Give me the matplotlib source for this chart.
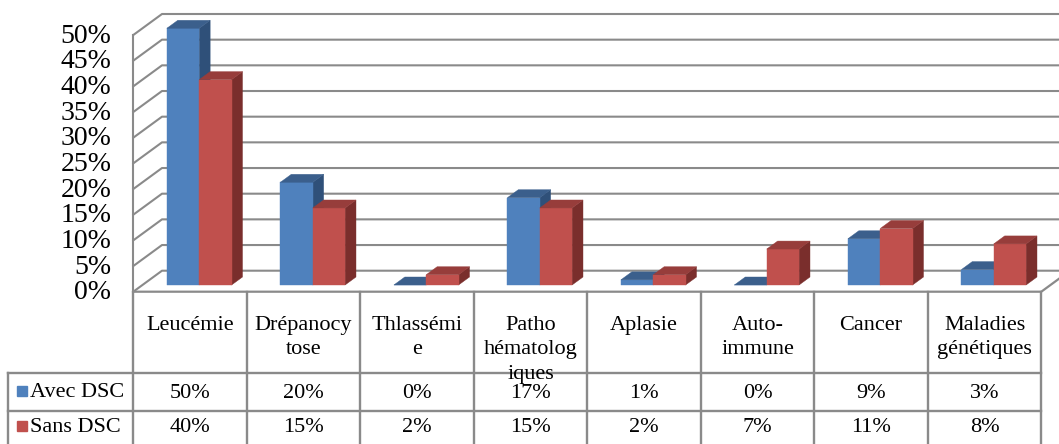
import numpy as np
import matplotlib.pyplot as plt
from matplotlib.patches import Polygon

categories = ['Leucémie', 'Drépanocy\ntose', 'Thlassémi\ne', 'Patho\nhématolog\niques',
              'Aplasie', 'Auto-\nimmune', 'Cancer', 'Maladies\ngénétiques']
avec_dsc = [50, 20, 0, 17, 1, 0, 9, 3]
sans_dsc = [40, 15, 2, 15, 2, 7, 11, 8]
series_names = ['Avec DSC', 'Sans DSC']
y_ticks = np.arange(0, 55, 5)

plt.rcParams['font.family'] = ['Liberation Serif', 'DejaVu Serif']

W, H = 1059, 444
x0_px, cat_px = 133.3, 113.5   # left wall and width of one category, in pixels
y0_px, pct_px = 291.7, 5.134   # floor front line and pixels per percent
dx, dy = 28.7 / cat_px, 21 / pct_px   # depth of the floor in data units
d0, d1 = 0.32, 0.70             # depth span of the bars
bw = 0.285                      # bar width (category units)
n = len(categories)

face = {'blue': ['#4f81bd', '#3b5f8c', '#2f5079'],
        'red': ['#c0504d', '#973d3b', '#7a2e2c']}
grid_c = '#8a8a8a'

fig = plt.figure(figsize=(W / 100, H / 100), dpi=100)
ax = fig.add_axes([0, 0, 1, 1])
ax.set_xlim(-x0_px / cat_px, (W - x0_px) / cat_px)
ax.set_ylim(-(H - y0_px) / pct_px, y0_px / pct_px)
ax.axis('off')

# walls and floor
for v in y_ticks:
  ax.plot([0, dx, n + dx + 1], [v, v + dy, v + dy], color=grid_c, lw=1.5, zorder=1)
  ax.text(-22 / cat_px, v - 0.2, f'{v}%', ha='right', va='center', fontsize=20)
ax.plot([0, 0], [0, y_ticks[-1]], color=grid_c, lw=1.5, zorder=1)
ax.plot([0, n, n + dx], [0, 0, dy], color=grid_c, lw=1.6, zorder=1)

def bar3d(xl, h, cols):
  fx, fy = xl + d0 * dx, d0 * dy
  ex, ey = (d1 - d0) * dx, (d1 - d0) * dy
  front = [(fx, fy), (fx + bw, fy), (fx + bw, fy + h), (fx, fy + h)]
  top = [(fx, fy + h), (fx + bw, fy + h), (fx + bw + ex, fy + h + ey), (fx + ex, fy + h + ey)]
  side = [(fx + bw, fy), (fx + bw + ex, fy + ey), (fx + bw + ex, fy + h + ey), (fx + bw, fy + h)]
  for pts, c in [(side, cols[2]), (front, cols[0]), (top, cols[1])]:
    ax.add_patch(Polygon(pts, closed=True, facecolor=c, edgecolor=c, lw=0.3, zorder=3))

for i in range(n):
  bar3d(i + 0.5 - bw, avec_dsc[i], face['blue'])
  bar3d(i + 0.5, sans_dsc[i], face['red'])

# data table below the chart
tab = fig.add_axes([0, 0, 1, 1])
tab.set_xlim(ax.get_xlim())
tab.set_ylim(H, 0)
tab.axis('off')
tab.patch.set_alpha(0)

row_top, row1, row2, row_bot = 291.7, 373.3, 410.7, 448
x_leg = (8 - x0_px) / cat_px
for i in range(n + 1):
  tab.plot([i, i], [row_top, row_bot], color=grid_c, lw=1.7)
tab.plot([x_leg, x_leg], [row1, row_bot], color=grid_c, lw=1.7)
for yy in [row1, row2]:
  tab.plot([x_leg, n], [yy, yy], color=grid_c, lw=1.7)

for i, cat in enumerate(categories):
  tab.text(i + 0.5, 316, cat, ha='center', va='top', fontsize=16, linespacing=1.38)
  tab.text(i + 0.5, (row1 + row2) / 2 + 1, f'{avec_dsc[i]}%', ha='center', va='center', fontsize=16)
  tab.text(i + 0.5, (row2 + row_bot) / 2 - 2, f'{sans_dsc[i]}%', ha='center', va='center', fontsize=16)

for name, (y_a, y_b), cols in zip(series_names, [(row1, row2), (row2, row_bot - 4)], [face['blue'], face['red']]):
  yc = (y_a + y_b) / 2
  tab.plot([(22 - x0_px) / cat_px], [yc - 1], marker='s', ms=7, color=cols[0], ls='none')
  tab.text((30 - x0_px) / cat_px, yc, name, ha='left', va='center', fontsize=16)

fig.savefig('out.png', dpi=100)
